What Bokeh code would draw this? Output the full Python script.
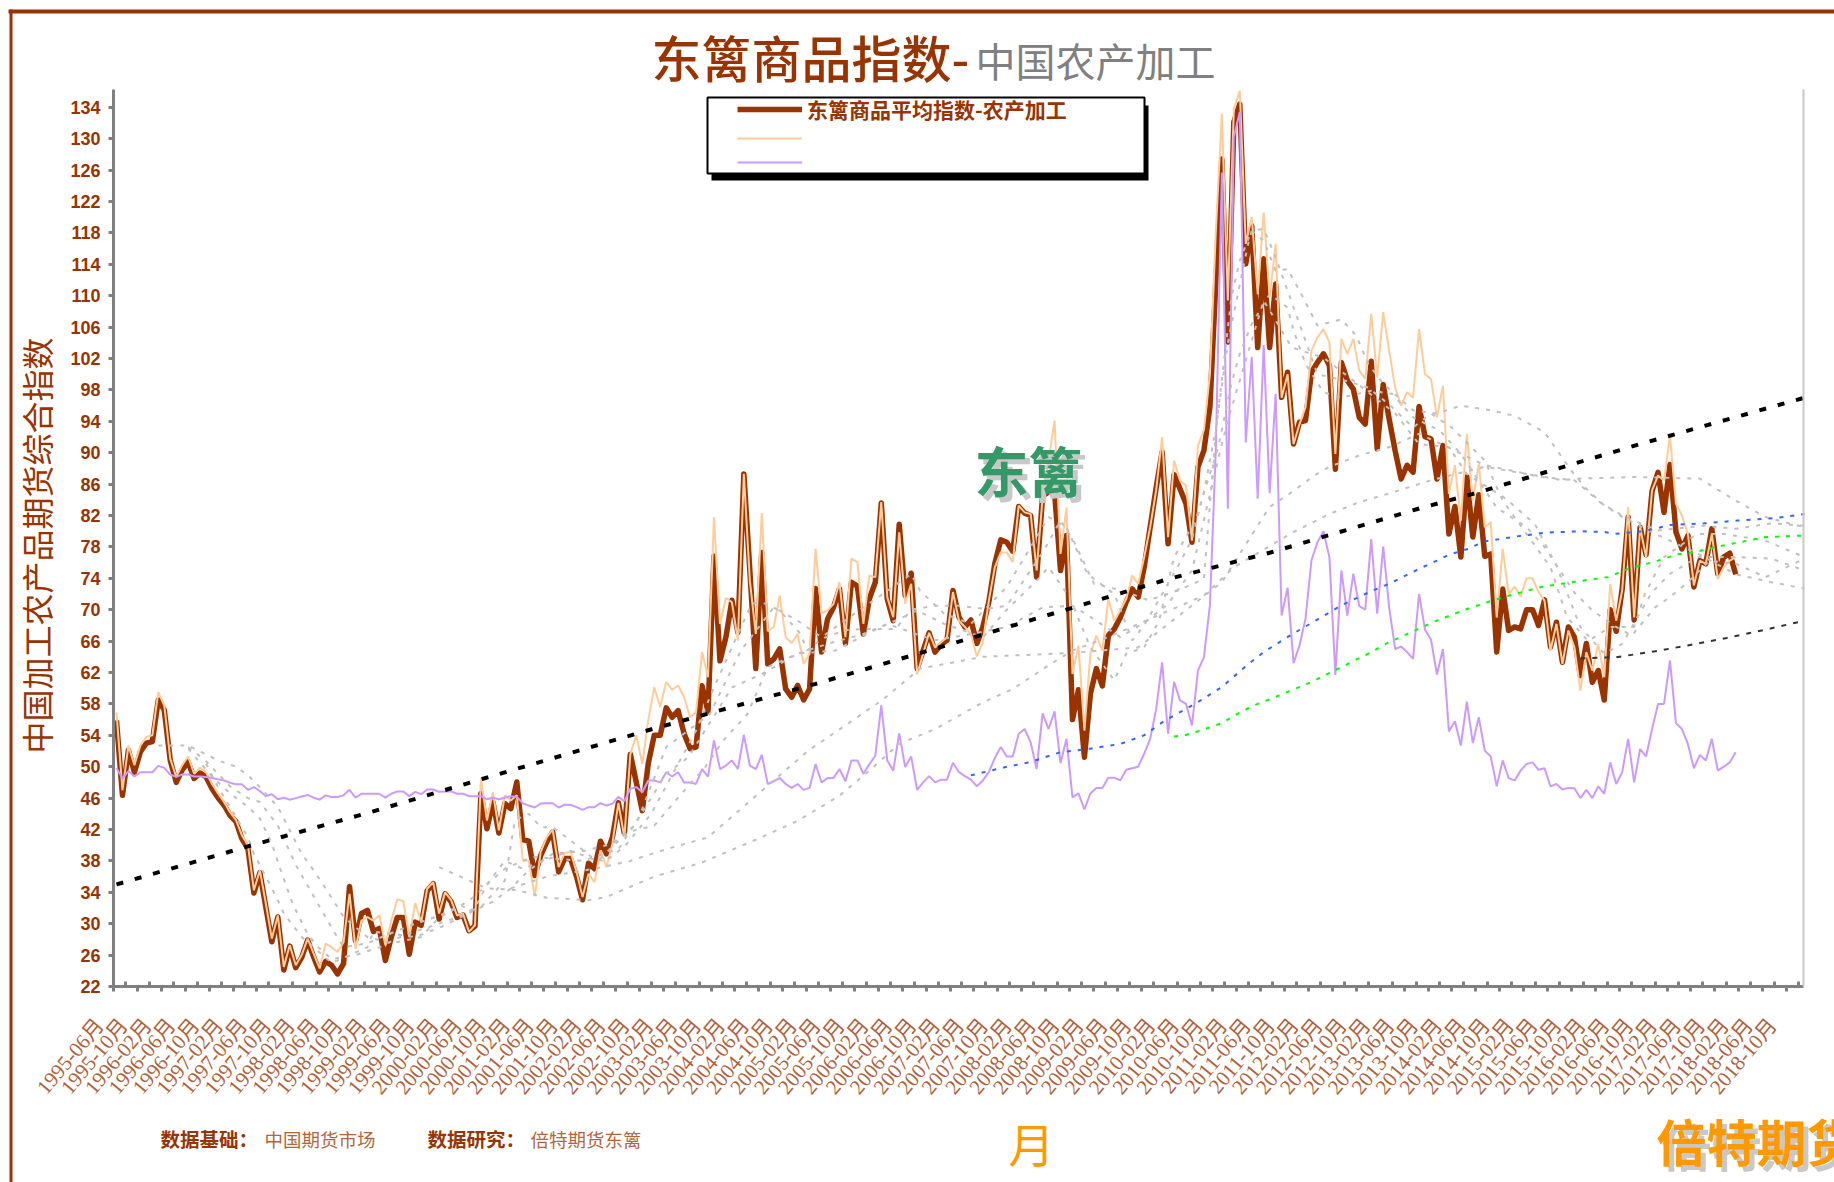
from math import radians
from bokeh.plotting import figure
from bokeh.models import (BoxAnnotation, FixedTicker, Label, Legend, LegendItem,
                          LinearAxis, Range1d)
from bokeh.core.properties import value
from bokeh.embed import file_html
from bokeh.resources import INLINE

tick_labels = ["1995-06月","1995-10月","1996-02月","1996-06月","1996-10月","1997-02月","1997-06月","1997-10月",
"1998-02月","1998-06月","1998-10月","1999-02月","1999-06月","1999-10月","2000-02月","2000-06月","2000-10月",
"2001-02月","2001-06月","2001-10月","2002-02月","2002-06月","2002-10月","2003-02月","2003-06月","2003-10月",
"2004-02月","2004-06月","2004-10月","2005-02月","2005-06月","2005-10月","2006-02月","2006-06月","2006-10月",
"2007-02月","2007-06月","2007-10月","2008-02月","2008-06月","2008-10月","2009-02月","2009-06月","2009-10月",
"2010-02月","2010-06月","2010-10月","2011-02月","2011-06月","2011-10月","2012-02月","2012-06月","2012-10月",
"2013-02月","2013-06月","2013-10月","2014-02月","2014-06月","2014-10月","2015-02月","2015-06月","2015-10月",
"2016-02月","2016-06月","2016-10月","2017-02月","2017-06月","2017-10月","2018-02月","2018-06月","2018-10月"]
y_ticks = [22,26,30,34,38,42,46,50,54,58,62,66,70,74,78,82,86,90,94,98,102,106,110,114,118,122,126,130,134]

main_index = [
55.9,46.35,52.1,49.3,51.9,53.0,53.2,58.5,57.2,50.8,
48.0,49.6,50.6,48.5,49.2,48.7,47.2,46.05,45.1,43.8,
43,40.8,39.55,33.9,36.5,32.1,27.7,30.85,24.1,27.15,
24.4,25.7,27.9,25.75,23.85,25.2,24.7,23.6,24.9,34.75,
27.8,31.3,31.7,29,29.4,25.3,28.3,30.8,30.8,26.1,
30.2,29.8,34.2,35.1,30.6,33.8,32.8,30.8,31.1,29.1,
29.7,46.6,42.1,45.5,41.55,45.3,44.65,48.05,40.7,40.5,
36.15,38.7,40.4,41.7,36.6,38.3,38.3,36,33.05,37.7,
37,40.5,38.9,41,45.4,41.5,51.6,48,44.4,50.4,
54,54,57.5,56.3,57.15,54.2,52.3,52.5,60.3,57,
76.8,63.5,66.5,71.2,67.1,87.3,75,62.5,77.3,63.1,
63.7,65,59.9,58.85,60.35,58.5,59.9,72.7,64.6,68.8,
70.3,72.65,65.7,73.5,73,66.9,71.4,73.5,83.6,71.4,
68.6,80.9,71.8,74.65,62.5,64.8,67.05,64.6,65.55,66.1,
72.45,69.05,67.8,68.7,65.7,67.8,71,75.85,78.9,78.6,
77.45,83.15,82.3,82,74.15,84.5,85,85,75,79.45,
56,59.8,51.2,59.3,62.5,60.3,66.7,67.55,69,71,
72.65,71.6,75.4,80.5,85.5,90.1,78.4,87.2,85.4,83.5,
78.6,88.2,90.3,95.8,111.9,127.4,104.1,132.1,134.4,114.05,
118.9,103.4,114.7,103.4,111.5,97.05,100.25,91.1,93.9,94.1,
100.25,101.5,102.6,101.1,87.9,101.5,99.2,98.1,94.5,93.65,
101.65,90.5,98.7,94.3,90.25,86.65,88.4,87.5,95.9,92.05,
91.75,86.65,90.9,79.65,83.15,76.7,86.95,79.25,84.65,76.8,
77.1,64.6,72.65,67.35,67.8,67.55,70,70,68,71.25,
65.25,68.4,63.3,67.8,66.5,61.6,65.7,60.75,62.25,58.5,
70,67.25,72.65,81.8,68.7,80.5,77,85.1,87.5,82.4,
88.5,79.9,77.75,79.45,72.9,76.25,75.85,80.3,74.55,76.7,
77.2,74.5]

orange_series = [
56.9,47,52.7,50.2,52.7,53.8,54,59.5,57.8,51,
48.7,50.2,51.3,49.1,49.9,49.3,47.8,46.6,45.5,44.2,
43.2,41.25,40,34.25,36.8,32.55,28.1,31.05,24.5,27.25,
24.7,26,28.1,26.2,24.3,27.45,27,26.4,27.65,33.8,
26.8,30.4,30.85,30.4,31.05,27.25,30.4,33.1,32.9,28.3,
32.6,30.2,34.45,35.3,31.3,34,33,31.05,31.3,28.95,
29.8,48.5,43.15,46.75,41.9,46.35,45.7,46.35,38.05,38.05,
33.5,39.15,41,42,37.2,39,39.15,36.6,33.4,36.35,
35.3,39.35,37.2,40.2,45.4,41,51.6,54,50.35,55.9,
60.1,57.6,60.8,59.8,60.35,58.85,56.3,56.95,64.6,61.4,
81.8,68.2,71.5,70.95,66.05,87.3,73.7,66.9,82.3,67.25,
67.8,71.8,66.5,65.75,66.9,63.1,64.4,77.75,69.55,69.9,
70.75,73.5,66.5,76.5,76.05,68.2,74.35,74.15,83.7,71.6,
69.05,79.85,70.75,73.3,61.75,64.4,67.05,65.2,65.85,66.5,
72.25,68.6,67.8,66.9,64.05,65.85,71.15,75.4,77.3,77.3,
76.05,83.25,82.4,82.2,75,84.3,89,94.1,77.1,83.05,
61.8,65.4,54.6,64.4,66.7,64.8,71.4,68.6,69.9,71.4,
74.35,73.3,76.7,80.5,85.2,92,79.25,89,86.45,85.8,
78.8,90.9,92.9,100,118.3,133.2,109.4,133.8,136.1,116.6,
120,110.2,120.6,109.8,116.6,97,100,91.1,93.65,95.8,
103,104.7,105.75,104.05,89.85,104.5,102.6,104.5,100.45,99.4,
107.7,99.6,107.9,103,98.3,96,97.7,97,105.75,100,
99.4,94.5,98.55,84.75,88.4,81.35,92.4,83.9,88.6,80.5,
81.15,69,77.75,72,72.95,71.7,74,74,72.25,71.15,
64.8,68.2,63.1,67.35,65.2,59.7,64.6,62.25,65.65,61.4,
73.3,68.6,72.45,83.05,69,80.5,76.7,85.2,87.1,86.45,
92.2,83.5,82,79.65,73.1,76.25,75.85,79.65,73.9,75.4,
76.25,76.7]

purple_series = [
49.85,48.5,49.45,48.75,49.3,49.3,49.3,50.1,49.85,49,
48.7,49,49,48.75,48.75,48.7,48.55,48.4,48.25,47.95,
47.75,47.75,47.05,47.4,46.9,46.25,46.5,45.85,46.05,45.8,
46,46.2,46.4,46.05,45.8,46.35,46.15,46.15,46.35,47.05,
46.05,46.55,46.55,46.55,46.55,46.05,46.55,46.85,46.85,46.25,
46.8,46.5,47.1,47.1,46.8,46.85,46.85,46.55,46.55,46.25,
46.25,46.25,45.85,46.05,45.85,46.05,46.25,46.15,45.35,45.05,
44.8,45.3,45.35,45.35,44.8,45.15,45.15,44.85,44.5,44.85,
44.85,45.35,45.05,45.3,46.15,45.6,47.2,47.4,46.75,48.25,
48.25,48,49.3,48.75,49.3,48,48,47.8,49.7,48.75,
53.35,49.7,50.15,50.8,49.7,54.05,50.15,49.7,51.5,47.8,
48.15,48.55,47.8,47.3,47.8,47.05,47.3,50.35,48,48.55,
48.55,49.7,48.15,50.8,50.8,49.1,50.3,51.4,57.8,50.8,
49.5,54.25,49.95,51.3,47.05,48,48.8,48,48.35,48.35,
50.5,49.3,48.8,48.35,47.5,48.25,49.3,51.1,52.5,51.3,
51.3,54.2,54.8,53.1,49.7,56.8,54.8,57.05,50.45,53.55,
46.1,46.6,44.55,46.6,47.3,47.3,48.6,48.6,48.25,49.6,
49.8,50,51.65,53.55,57.3,63.3,54.2,60.8,58.45,58,
55.25,62.25,63.95,70.55,90.7,125.7,82.85,130.2,133.4,91.3,
102.2,84.15,103.7,84.85,97.5,69.25,72.8,63.2,65.45,68.85,
76.3,78.6,80,76.7,61.7,75,69.25,74.6,70.45,70,
79,69.5,78.05,70.3,65,65.3,64.6,63.75,72,67.45,
66.2,61.75,65,54.5,55.8,52.7,58.3,53,56.3,52.05,
51.3,47.5,50.8,48.55,48.25,49.5,50.35,50.55,49.6,49.8,
47.5,47.8,47.1,47.3,47.25,46,47.05,46,47.5,46.55,
50.55,47.8,49.3,53.55,48,52.25,51.3,54.8,58,58,
63.55,55.55,54.8,52.9,49.8,51.5,50.8,53.55,49.5,50,
50.55,51.85]

# sparse readings of the overlaid curves: (month positions, values)
trend_x = [0,22,42.5,61.5,89,117,145.3,176,193,217.6,227,255,282.5]
trend_y = [35,39.85,44.2,48.5,54.65,60.55,66.9,73.9,77.25,82.8,84.75,91.1,97]

blue_x = [143,148.5,153,158,163,168,172,175.5,180.5,185,189,192,196.7,200,205,209.7,213,218,221,223,226,229,234,239,245,249,250.7,255.8,260,265.7,271.3,278,282.5]
blue_y = [48.9,49.9,50.6,51.85,52.3,52.9,54,55.9,58,60.15,62.8,64.6,66.85,68.3,70.55,72.25,73.3,75.2,76.25,77,77.7,78.7,79.3,79.8,80,79.9,79.65,80,80.8,81,81.35,81.7,82.2]

green_x = [177,178.8,182,185,186.6,190,195,200,204.5,209.5,212.7,216,220.6,225.7,230.4,233.8,238.5,243.5,249.6,253,258,261.4,264,267.5,271,276,282.5]
green_y = [53.85,54,54.75,55.55,56.3,57.7,59.2,60.8,62.5,64.4,65.75,66.9,68.5,70,71.2,71.95,72.9,73.5,74.15,75.2,76.25,77.1,77.3,77.95,78.5,79.25,79.45]

dark_x = [245,251,257.5,263,269.5,276.5,282.5]
dark_y = [63.8,63.95,64.7,65.45,66.4,67.55,68.6]

gray_a_x = [7,12,17,20,22,24,27,28,31,33,35,37,38,42,46,51,54,57.7,59.4,61,65,66.7,69,71,73,76,79.5,81.7,85,89.5,97,100,104,106.3,108,111,114.5,115.6,118,122,125.7,130.4,133,137,141,145.6,149,155,158,160.3,163.6,168.5,172.7,176,179,182,184,186.6,188,190,192,194,196,198,201,205,207.5,209.5,212,217,221,225,230,234,239,243.5,246,249,252.5,258,265,271,277,282.5]
gray_a_y = [52.7,52.7,50.8,50,48.9,47.4,44.9,43.4,38.9,36.8,34.5,32.1,30.85,28.3,27.5,28.3,30.8,32.3,31.7,32.1,35.5,43.2,44,42.3,42.3,40.6,38.5,37.9,39.8,44,54.6,60.1,66.9,70.75,70.95,69.9,66.9,64.8,66.3,67.4,67.55,67.55,70,70.5,70.5,70.1,70.5,77.3,81.35,78.6,73.3,72.4,71.2,72,72.9,73.9,92.8,109.8,114.5,118.3,117,113.2,113.4,110.65,106.2,107,104.9,101.3,98.8,95.4,95,96,95.4,94.7,92.6,87.7,85.4,83.3,81.6,79.5,77,74.5,73.5,72.7]

gray_b_x = [12,15,19,22,24,27,30,33,36,38,42,45,50,54,58,60,62,65,68,70,78,84,88,92,95.7,103,108,114,120.3,126,131.5,134,138.5,145,149,154,156,159.5,163,167,169,172,174.5,177,180.5,183,184.4,186.6,188,190,193,196,197,199,202,205,210,213.5,217,221.5,225,231,236,239,244,247,251,253.6,257.5,260,262.7,266.6,271,276,282.5]
gray_b_y = [52.5,50.7,47.5,46,45.5,42.5,37.5,33.5,29.5,27,27.5,28.5,30,31,32.5,33.5,35,37,38,38.5,38,39.5,44.2,49.1,51.2,60.1,61.8,64.4,64.8,67.1,69,69.9,68.2,66.5,70,73.7,75.4,71.6,65.2,61,64.4,65.2,68.6,76.7,81.2,87.3,90.7,98.8,102.6,106.4,110.2,108.5,105.55,101.3,97.7,97,97.9,97.5,94.5,92.8,89.85,83,80.5,78,72.2,69.9,67.8,66.7,70.3,71.6,73.3,76.25,75.85,74.15,76.5]

gray_c_x = [12,16,19,22,24,26,27.5,29.5,32,33.5,36,40,44,48,52,57,60,62,65,68,76,80.6,83.5,85.7,90,94.5,98.5,101.5,105.6,109,114,119,125,129,133.8,137,143,149,155,160,164,168,172.5,176,180,185,186,192,196.7,202,207,214,218,223,226,232.6,237.4,241,245,249,252,257,260,264.6,271,277,282.5]
gray_c_y = [52.3,48.7,46.6,44.9,43.4,40.2,36.8,32.5,28.7,27.2,25.5,26,27,28.5,29.5,30.8,32,35,38,37,39.3,38,40.2,41.7,42.5,46.5,49.9,53.3,56.7,62.7,64.4,65.65,66.9,68.2,66.9,66.1,66.9,67.8,70.3,70.5,68.6,66.5,68.6,70.75,75,91.1,94.1,109.4,103.4,102.1,99.2,95,91.1,90.7,87.3,84.1,80.9,75.6,67.8,64.4,65.65,72.25,74.55,76.7,76.7,76.5,75]

gray_d_x = [15,17,19,22,23,25,27,28,31,33,36,39,42,43,50,54.4,59.4,63,66,69,73,78.4,83,87,92,99.3,104.5,110,114,118,125,129,133,134.5,138.5,143,149,156,159,162.5,167,170,172,175,178,180,182,184,186,189.4,190,192,193.8,198,201,205.5,209.5,213.5,217,220,223.5,229,232,240,242.8,246.3,250,254,255.8,259,264.5,269,276,282.5]
gray_d_y = [50.4,47.4,44.9,41,38.9,36,33,31.3,28.3,27,25,26,27,29,28.3,29.6,31.5,32.8,34.5,36.8,38.9,39.3,40.2,42.7,52.5,56.7,64.8,70.3,68.6,66.5,70.3,72.4,74.55,72.4,69.5,68.2,72.9,81.8,80.5,74.55,72,66.1,68,72,76,79,85,93,104,116.6,118.3,118.5,115.3,106.4,100,99.2,98.3,95.8,93.2,95,93.2,89,83.9,75.4,69,66,67.8,67.8,72,76.7,79.65,79.65,78.8,76.7]

gray_long_x = [54,59,62,67,72,79,82,90,98,107,114,121,126,131,137,145,150,156,160,166,175,182,187,197,203,208,213,220,229,236,242,245,254,265,271,276,282.5]
gray_long_y = [37.2,35.5,34.5,34.3,33.3,33,33.4,36,37.8,40.7,43.1,46.3,49.5,52.9,54.8,58.2,59.9,62.9,64.8,66.5,69.5,71.8,75.4,79.9,82.2,83.7,84.8,86.5,88.2,87.3,86.5,86.7,86.9,86.7,83.9,81.8,80.5]

gray_mid_x = [66,72,80,86,92,99,115.7,128,134.5,145,160,171,185,193,196,200.5,203,208,213,218,222,229,233.6,238.5,244,248.6,252.5,258,265.7,271,277,282.5]
gray_mid_y = [34.5,36,37,38,39.5,41,52,58.4,62.5,64,64.5,65.2,73.5,83.1,84.6,87.1,88.2,89.65,90.7,92.4,91,88.4,87.7,86.9,86.5,83.5,81.8,80.1,80.7,80.3,81,80.7]

BROWN = "#993300"
CJK = "Noto Sans CJK SC"
W, H = 1834, 1182
X0, PX_MONTH = 113, 5.975     # plot origin on the page, pixels per month
Y0, PX_UNIT = 986, 7.85       # page row of the value 22, pixels per index point
X_END, Y_TOP = 282.8, 136.3

# the frame fills the whole page, so that texts outside the axes are not clipped
def fx(px):
    return (px - X0) / PX_MONTH
def fy(py):
    return 22 + (Y0 - py) / PX_UNIT

p = figure(width=W, height=H, output_backend="svg", toolbar_location=None,
           x_range=Range1d(fx(0), fx(W)), y_range=Range1d(fy(H), fy(0)),
           min_border_left=0, min_border_right=0, min_border_top=0, min_border_bottom=0,
           tools="")
p.grid.visible = False
p.outline_line_color = None
p.background_fill_color = "white"
p.border_fill_color = "white"

# axis A: carries the line, the down ticks (as minor ticks) and the tick labels,
# whose positions lie about 2.3 months left of the ticks, as in the reference
LABEL_SHIFT = 2.3
label_ticks = [4 * k - LABEL_SHIFT for k in range(71)]
xax = p.xaxis[0]
xax.fixed_location = 22
xax.bounds = (0, X_END)
xax.ticker = FixedTicker(ticks=label_ticks, minor_ticks=[4 * k for k in range(71)])
xax.major_label_overrides = dict(zip(label_ticks, tick_labels))
xax.major_label_orientation = radians(50)
xax.major_label_text_font = "Liberation Serif, Noto Sans CJK SC"
xax.major_label_text_font_size = "21px"
xax.major_label_text_color = "#B0603A"
xax.major_label_standoff = 30
xax.axis_line_color = "#808080"
xax.axis_line_width = 3
xax.major_tick_line_color = None
xax.major_tick_in = 0
xax.major_tick_out = 0
xax.minor_tick_line_color = "#808080"
xax.minor_tick_line_width = 3
xax.minor_tick_in = 0
xax.minor_tick_out = 5

# axis B: only the up ticks, drawn on the same baseline
up = LinearAxis(ticker=FixedTicker(ticks=[], minor_ticks=[2 + 4 * k for k in range(71)]),
                fixed_location=22, bounds=(0, X_END), axis_line_color=None, major_tick_line_color=None,
                minor_tick_line_color="#808080", minor_tick_line_width=3, minor_tick_in=5, minor_tick_out=0)
p.add_layout(up, "below")

yax = p.yaxis[0]
yax.fixed_location = 0
yax.bounds = (22, Y_TOP)
yax.ticker = FixedTicker(ticks=y_ticks)
yax.major_label_text_font = "Liberation Sans"
yax.major_label_text_font_style = "bold"
yax.major_label_text_font_size = "18px"
yax.major_label_text_color = BROWN
yax.major_label_standoff = 8
yax.axis_line_color = "#808080"
yax.axis_line_width = 3
yax.major_tick_line_color = "#808080"
yax.major_tick_line_width = 3
yax.major_tick_out = 5
yax.major_tick_in = 0
yax.minor_tick_out = 0
yax.minor_tick_in = 0

rax = LinearAxis(ticker=FixedTicker(ticks=[]), fixed_location=X_END, bounds=(22, Y_TOP),
                 axis_line_color="#C8C8C8", axis_line_width=2, major_tick_line_color=None,
                 minor_tick_line_color=None)
p.add_layout(rax, "right")

def box(l, r, t, b, fill, line=None, lw=0):
    bx = BoxAnnotation(left=fx(l), right=fx(r), top=fy(t), bottom=fy(b), fill_color=fill, fill_alpha=1,
                       line_color=line, line_width=lw, line_alpha=1 if line else 0, level="annotation")
    p.add_layout(bx)

xs = [i + 0.5 for i in range(len(main_index))]
r_main = p.line(xs, main_index, line_color=BROWN, line_width=5.5, line_join="round")
r_orange = p.line(xs, orange_series, line_color="#FFCC99", line_width=2)
r_purple = p.line(xs, purple_series, line_color="#CC99FF", line_width=2)

for gx, gy in [(gray_a_x, gray_a_y), (gray_b_x, gray_b_y), (gray_c_x, gray_c_y), (gray_d_x, gray_d_y),
               (gray_long_x, gray_long_y), (gray_mid_x, gray_mid_y)]:
    p.line([v + 0.5 for v in gx], gy, line_color="#C0C0C0", line_width=2, line_dash="4 7")
p.line([v + 0.5 for v in blue_x], blue_y, line_color="#3366FF", line_width=2, line_dash="4 7")
p.line([v + 0.5 for v in green_x], green_y, line_color="#00FF00", line_width=2, line_dash="4 7")
p.line([v + 0.5 for v in dark_x], dark_y, line_color="#333333", line_width=2, line_dash="5 7")
p.line([v + 0.5 for v in trend_x], trend_y, line_color="black", line_width=4, line_dash="7 12")

# outer frame of the sheet
box(8, W, 9, 13, BROWN)
box(9, 12, 9, H, BROWN)
# legend plate with its shadow
box(711, 1148, 105, 180, "black")
box(707, 1144, 97, 173, "white", "black", 2)

legend = Legend(items=[LegendItem(label="东篱商品平均指数-农产加工", renderers=[r_main]),
                       LegendItem(label=value(" "), renderers=[r_orange]),
                       LegendItem(label=value(" "), renderers=[r_purple])],
                location=(737, H - 172), orientation="vertical",
                glyph_width=65, glyph_height=20, label_standoff=5, spacing=4, padding=2, margin=0,
                border_line_color=None, background_fill_alpha=0,
                label_text_font=CJK, label_text_font_style="bold",
                label_text_font_size="21px", label_text_color=BROWN)
p.add_layout(legend, "center")

def label(px, py, text, size, color, style="normal", align="left", angle=0.0, font=CJK):
    p.add_layout(Label(x=fx(px), y=fy(py), text=text, text_font=font, text_font_size=f"{size}px",
                       text_color=color, text_font_style=style, text_align=align,
                       text_baseline="middle", angle=angle))

label(651, 55, "东篱商品指数-", 50, BROWN, font="Noto Sans CJK SC Medium, Noto Sans CJK SC")
label(975, 59, "中国农产加工", 40, "#808080")
label(35, 545, "中国加工农产品期货综合指数", 32, BROWN, angle=radians(90), align="center")
label(160, 1138, "数据基础：", 19.5, BROWN, "bold")
label(264, 1138, "中国期货市场", 18.5, "#B5653B")
label(427, 1138, "数据研究：", 19.5, BROWN, "bold")
label(530, 1138, "倍特期货东篱", 18.5, "#B5653B")
label(1031, 1141, "月", 46, "#FF9900", align="center")
label(979, 474, "东篱", 54, "#C8C8C8", "bold")
label(974, 469, "东篱", 54, "#339966", "bold")
label(1661, 1144, "倍特期货", 50, "#C8C8C8", "bold")
label(1656, 1139, "倍特期货", 50, "#FF9900", "bold")

open("out.html", "w").write(file_html(p, INLINE))
